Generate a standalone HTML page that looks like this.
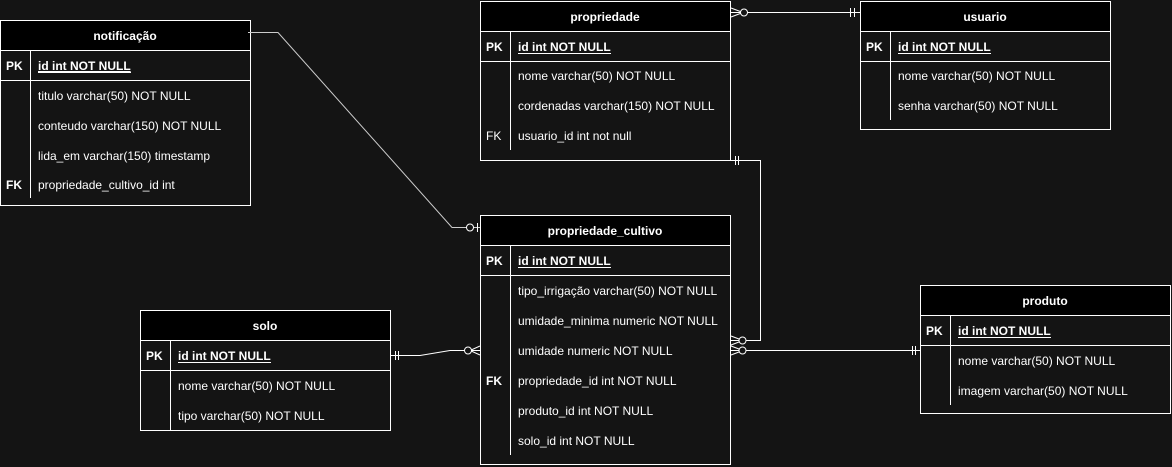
<!DOCTYPE html>
<html><head><meta charset="utf-8"><style>
html,body{margin:0;padding:0;background:#141414;}
svg{display:block}
text{font-family:"Liberation Sans",Arial,sans-serif;font-size:12px;fill:#fff;}
.b{font-weight:bold}
</style></head><body>
<svg width="1172" height="467" viewBox="0 0 1172 467" xmlns="http://www.w3.org/2000/svg">
<rect width="1172" height="467" fill="#141414"/>
<g stroke="#fff" stroke-width="1" fill="none">
<!-- notificação -->
<rect x="0.5" y="20.5" width="250" height="185" fill="#141414"/>
<rect x="0.5" y="20.5" width="250" height="30" fill="#000"/>
<line x1="0.5" y1="80.5" x2="250.5" y2="80.5"/>
<line x1="30.5" y1="50.5" x2="30.5" y2="198"/>
<!-- propriedade -->
<rect x="480.5" y="1.5" width="250" height="159" fill="#141414"/>
<rect x="480.5" y="1.5" width="250" height="30" fill="#000"/>
<line x1="480.5" y1="61.5" x2="730.5" y2="61.5"/>
<line x1="510.5" y1="31.5" x2="510.5" y2="150"/>
<!-- usuario -->
<rect x="860.5" y="1.5" width="250" height="128" fill="#141414"/>
<rect x="860.5" y="1.5" width="250" height="30" fill="#000"/>
<line x1="860.5" y1="61.5" x2="1110.5" y2="61.5"/>
<line x1="890.5" y1="31.5" x2="890.5" y2="120"/>
<!-- propriedade_cultivo -->
<rect x="480.5" y="215.5" width="250" height="249" fill="#141414"/>
<rect x="480.5" y="215.5" width="250" height="30" fill="#000"/>
<line x1="480.5" y1="275.5" x2="730.5" y2="275.5"/>
<line x1="510.5" y1="245.5" x2="510.5" y2="455"/>
<!-- solo -->
<rect x="140.5" y="310.5" width="250" height="120" fill="#141414"/>
<rect x="140.5" y="310.5" width="250" height="30" fill="#000"/>
<line x1="140.5" y1="370.5" x2="390.5" y2="370.5"/>
<line x1="170.5" y1="340.5" x2="170.5" y2="430.5"/>
<!-- produto -->
<rect x="920.5" y="285.5" width="250" height="128" fill="#141414"/>
<rect x="920.5" y="285.5" width="250" height="30" fill="#000"/>
<line x1="920.5" y1="345.5" x2="1170.5" y2="345.5"/>
<line x1="950.5" y1="315.5" x2="950.5" y2="405"/>

<!-- connectors -->
<polyline points="248,32.5 278,32.5 452,227.5 480,227.5" stroke="#ccc"/>
<circle cx="470" cy="227.5" r="3.5" fill="#141414"/>
<line x1="477.5" y1="223" x2="477.5" y2="232"/>

<line x1="730" y1="12.5" x2="860" y2="12.5"/>
<path d="M731,8 L743,12.5 L731,17"/>
<circle cx="744" cy="12.5" r="3.5" fill="#141414"/>
<line x1="850.5" y1="8" x2="850.5" y2="17"/><line x1="854.5" y1="8" x2="854.5" y2="17"/>

<polyline points="730,160.5 760.5,160.5 760.5,340.5 730,340.5"/>
<line x1="735.5" y1="156" x2="735.5" y2="165"/><line x1="738.5" y1="156" x2="738.5" y2="165"/>
<path d="M731,336 L743,340.5 L731,345"/>
<circle cx="742.5" cy="340.5" r="3.5" fill="#141414"/>

<line x1="730" y1="350.5" x2="920" y2="350.5"/>
<path d="M731,346 L743,350.5 L731,355"/>
<circle cx="742.5" cy="350.5" r="3.5" fill="#141414"/>
<line x1="912.5" y1="346" x2="912.5" y2="355"/><line x1="915.5" y1="346" x2="915.5" y2="355"/>

<polyline points="390,355.5 420,355.5 450,350.5 480,350.5"/>
<line x1="395.5" y1="351" x2="395.5" y2="360"/><line x1="398.5" y1="351" x2="398.5" y2="360"/>
<path d="M480,346 L470,350.5 L480,355"/>
<circle cx="468" cy="350.5" r="3.5" fill="#141414"/>
</g>
<g stroke="none">
<!-- notificação -->
<text class="b" x="125" y="40" text-anchor="middle">notificação</text>
<text class="b" x="6" y="70">PK</text>
<text class="b" x="38" y="70" text-decoration="underline">id int NOT NULL</text>
<line x1="38" y1="72.5" x2="131" y2="72.5" stroke="#fff"/>
<text x="38" y="100">titulo varchar(50) NOT NULL</text>
<text x="38" y="130">conteudo varchar(150) NOT NULL</text>
<text x="38" y="160">lida_em varchar(150) timestamp</text>
<text class="b" x="6" y="189">FK</text>
<text x="38" y="189">propriedade_cultivo_id int</text>
<!-- propriedade -->
<text class="b" x="605" y="21" text-anchor="middle">propriedade</text>
<text class="b" x="486" y="51">PK</text>
<text class="b" x="518" y="51">id int NOT NULL</text>
<line x1="518" y1="53.5" x2="611" y2="53.5" stroke="#fff"/>
<text x="518" y="80">nome varchar(50) NOT NULL</text>
<text x="518" y="110">cordenadas varchar(150) NOT NULL</text>
<text x="486" y="140">FK</text>
<text x="518" y="140">usuario_id int not null</text>
<!-- usuario -->
<text class="b" x="985" y="21" text-anchor="middle">usuario</text>
<text class="b" x="866" y="51">PK</text>
<text class="b" x="898" y="51">id int NOT NULL</text>
<line x1="898" y1="53.5" x2="991" y2="53.5" stroke="#fff"/>
<text x="898" y="80">nome varchar(50) NOT NULL</text>
<text x="898" y="110">senha varchar(50) NOT NULL</text>
<!-- propriedade_cultivo -->
<text class="b" x="605" y="235" text-anchor="middle">propriedade_cultivo</text>
<text class="b" x="486" y="265">PK</text>
<text class="b" x="518" y="265">id int NOT NULL</text>
<line x1="518" y1="267.5" x2="611" y2="267.5" stroke="#fff"/>
<text x="518" y="295">tipo_irrigação varchar(50) NOT NULL</text>
<text x="518" y="325">umidade_minima numeric NOT NULL</text>
<text x="518" y="355">umidade numeric NOT NULL</text>
<text class="b" x="486" y="385">FK</text>
<text x="518" y="385">propriedade_id int NOT NULL</text>
<text x="518" y="415">produto_id int NOT NULL</text>
<text x="518" y="445">solo_id int NOT NULL</text>
<!-- solo -->
<text class="b" x="265" y="330" text-anchor="middle">solo</text>
<text class="b" x="146" y="360">PK</text>
<text class="b" x="178" y="360">id int NOT NULL</text>
<line x1="178" y1="362.5" x2="271" y2="362.5" stroke="#fff"/>
<text x="178" y="390">nome varchar(50) NOT NULL</text>
<text x="178" y="420">tipo varchar(50) NOT NULL</text>
<!-- produto -->
<text class="b" x="1045" y="305" text-anchor="middle">produto</text>
<text class="b" x="926" y="335">PK</text>
<text class="b" x="958" y="335">id int NOT NULL</text>
<line x1="958" y1="337.5" x2="1051" y2="337.5" stroke="#fff"/>
<text x="958" y="365">nome varchar(50) NOT NULL</text>
<text x="958" y="395">imagem varchar(50) NOT NULL</text>
</g>
</svg>
</body></html>
